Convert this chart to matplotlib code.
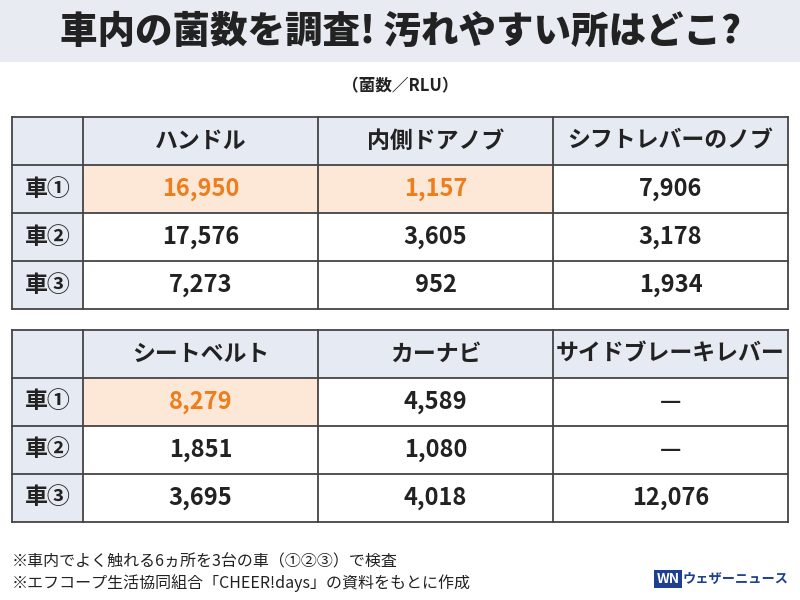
import matplotlib.pyplot as plt
from matplotlib.patches import Rectangle

plt.rcParams['font.family'] = ['Noto Sans CJK JP', 'DejaVu Sans']

title = "車内の菌数を調査! 汚れやすい所はどこ?"
unit = "（菌数／RLU）"
cars = ["車①", "車②", "車③"]
cols_top = ["ハンドル", "内側ドアノブ", "シフトレバーのノブ"]
vals_top = [["16,950", "1,157", "7,906"],
            ["17,576", "3,605", "3,178"],
            ["7,273", "952", "1,934"]]
hi_top = [(0, 0), (0, 1)]
cols_bot = ["シートベルト", "カーナビ", "サイドブレーキレバー"]
vals_bot = [["8,279", "4,589", "—"],
            ["1,851", "1,080", "—"],
            ["3,695", "4,018", "12,076"]]
hi_bot = [(0, 0)]
notes = ["※車内でよく触れる6ヵ所を3台の車（①②③）で検査",
         "※エフコープ生活協同組合「CHEER!days」の資料をもとに作成"]

HEAD = "#e6ebf3"
HILITE = "#fde8d8"
ORANGE = "#ee7d1c"
LINE = "#444444"
INK = "#222222"

fig = plt.figure(figsize=(8, 6), dpi=100)
ax = fig.add_axes([0, 0, 1, 1])
ax.set_xlim(0, 800)
ax.set_ylim(600, 0)
ax.axis("off")

ax.add_patch(Rectangle((0, 0), 800, 62, color="#e8ecf2", lw=0))
ax.text(400, 32, title, ha="center", va="center", fontsize=27,
        fontweight="black", color=INK)
ax.text(400, 86, unit, ha="center", va="center", fontsize=12,
        fontweight="bold", color=INK)

xs = [12, 83, 318, 553, 788]


def draw_table(top, cols, vals, hi):
    rh = 48
    ys = [top + i * rh for i in range(5)]
    ax.add_patch(Rectangle((xs[0], ys[0]), xs[-1] - xs[0], rh, color=HEAD, lw=0))
    ax.add_patch(Rectangle((xs[0], ys[0]), xs[1] - xs[0], ys[-1] - ys[0], color=HEAD, lw=0))
    for r, c in hi:
        ax.add_patch(Rectangle((xs[c + 1], ys[r + 1]), xs[c + 2] - xs[c + 1], rh,
                               color=HILITE, lw=0))
    for y in ys:
        ax.plot([xs[0], xs[-1]], [y, y], color=LINE, lw=1.3)
    for x in xs:
        ax.plot([x, x], [ys[0], ys[-1]], color=LINE, lw=1.3)
    for j, name in enumerate(cols):
        ax.text((xs[j + 1] + xs[j + 2]) / 2, ys[0] + rh / 2, name, ha="center",
                va="center", fontsize=16.5, fontweight="bold", color=INK)
    for i, car in enumerate(cars):
        yc = ys[i + 1] + rh / 2
        ax.text((xs[0] + xs[1]) / 2, yc, car, ha="center", va="center",
                fontsize=16.5, fontweight="bold", color=INK)
        for j, v in enumerate(vals[i]):
            col = ORANGE if (i, j) in hi else INK
            ax.text((xs[j + 1] + xs[j + 2]) / 2, yc, v, ha="center", va="center",
                    fontsize=17, fontweight="bold", color=col)


draw_table(117, cols_top, vals_top, hi_top)
draw_table(330, cols_bot, vals_bot, hi_bot)

ax.text(12, 562, notes[0], ha="left", va="center", fontsize=11.5, color=INK)
ax.text(12, 583, notes[1], ha="left", va="center", fontsize=11.5, color=INK)

ax.text(668, 579, "WN", ha="center", va="center", fontsize=10, fontweight="bold",
        color="white", bbox=dict(boxstyle="square,pad=0.15", fc="#1d3f8f", ec="none"))
ax.text(683, 579, "ウェザーニュース", ha="left", va="center", fontsize=9.5,
        fontweight="bold", color="#1d3f8f")

fig.savefig("out.png", dpi=100)
